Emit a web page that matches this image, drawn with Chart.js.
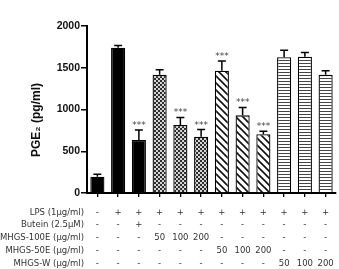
<!DOCTYPE html>
<html>
<head>
<meta charset="utf-8">
<script src="https://cdn.jsdelivr.net/npm/chart.js@4.4.1/dist/chart.umd.min.js"></script>
<style>
  html, body { margin: 0; padding: 0; background: #fff; }
  #wrap { width: 339px; height: 269px; }
</style>
</head>
<body>
<div id="wrap"><canvas id="myChart" width="339" height="269"></canvas></div>
<script>
// values
var groups = ['ctrl', 'LPS', 'Butein', '100E-50', '100E-100', '100E-200', '50E-50', '50E-100', '50E-200', 'W-50', 'W-100', 'W-200'];
var pge2 = [195, 1740, 635, 1415, 815, 675, 1465, 930, 705, 1625, 1632, 1415];
var pge2Err = [30, 25, 120, 60, 90, 85, 115, 95, 35, 85, 50, 50];
var stars = ['', '', '***', '', '***', '***', '***', '***', '***', '', '', ''];
var yTicks = [0, 500, 1000, 1500, 2000];

// treatment table below the x axis
var rowNames = ['LPS (1\u03bcg/ml)', 'Butein (2.5\u03bcM)', 'MHGS-100E (\u03bcg/ml)', 'MHGS-50E (\u03bcg/ml)', 'MHGS-W (\u03bcg/ml)'];
var lps = ['-', '+', '+', '+', '+', '+', '+', '+', '+', '+', '+', '+'];
var butein = ['-', '-', '+', '-', '-', '-', '-', '-', '-', '-', '-', '-'];
var mhgs100e = ['-', '-', '-', '50', '100', '200', '-', '-', '-', '-', '-', '-'];
var mhgs50e = ['-', '-', '-', '-', '-', '-', '50', '100', '200', '-', '-', '-'];
var mhgsW = ['-', '-', '-', '-', '-', '-', '-', '-', '-', '50', '100', '200'];
var table = [lps, butein, mhgs100e, mhgs50e, mhgsW];

function makePattern(kind) {
    var c = document.createElement('canvas');
    var g = c.getContext('2d');
    if (kind == 'dots') {
        c.width = 4; c.height = 4;
        g.fillStyle = '#d4d4d4'; g.fillRect(0, 0, 4, 4);
        g.fillStyle = '#2e2e2e'; g.fillRect(0, 0, 2, 2); g.fillRect(2, 2, 2, 2);
    } else if (kind == 'diag') {
        c.width = 7; c.height = 7;
        g.fillStyle = '#fff'; g.fillRect(0, 0, 7, 7);
        g.strokeStyle = '#111'; g.lineWidth = 1.6;
        g.beginPath();
        g.moveTo(-1, -1); g.lineTo(8, 8);
        g.moveTo(-1, 6); g.lineTo(1, 8);
        g.moveTo(6, -1); g.lineTo(8, 1);
        g.stroke();
    } else {
        c.width = 3; c.height = 3;
        g.fillStyle = '#fff'; g.fillRect(0, 0, 3, 3);
        g.fillStyle = '#444'; g.fillRect(0, 0, 3, 1);
    }
    return document.getElementById('myChart').getContext('2d').createPattern(c, 'repeat');
}

var fills = [];
for (var i = 0; i < groups.length; i++) {
    if (i < 3) fills.push('#000');
    else if (i < 6) fills.push(makePattern('dots'));
    else if (i < 9) fills.push(makePattern('diag'));
    else fills.push(makePattern('horiz'));
}

var extras = {
    id: 'extras',
    afterDatasetsDraw: function(chart) {
        var ctx = chart.ctx;
        var y = chart.scales.y;
        var meta = chart.getDatasetMeta(0);
        ctx.save();
        ctx.strokeStyle = '#000';
        ctx.lineWidth = 1.5;
        ctx.fillStyle = '#444';
        ctx.font = '9px "DejaVu Sans"';
        ctx.textAlign = 'center';
        ctx.textBaseline = 'alphabetic';
        for (var i = 0; i < pge2.length; i++) {
            var bx = meta.data[i].x;
            var top = y.getPixelForValue(pge2[i]);
            var et = y.getPixelForValue(pge2[i] + pge2Err[i]);
            ctx.beginPath();
            ctx.moveTo(bx, top); ctx.lineTo(bx, et);
            ctx.moveTo(bx - 4, et); ctx.lineTo(bx + 4, et);
            ctx.stroke();
            if (stars[i]) ctx.fillText(stars[i], bx, et - 2);
        }
        ctx.restore();
    },
    afterDraw: function(chart) {
        var ctx = chart.ctx;
        var x = chart.scales.x;
        var area = chart.chartArea;
        ctx.save();
        ctx.fillStyle = '#333';
        ctx.font = '8.5px "DejaVu Sans"';
        ctx.textBaseline = 'middle';
        for (var r = 0; r < table.length; r++) {
            var ry = area.bottom + 19.5 + r * 12.75;
            ctx.textAlign = 'right';
            ctx.fillText(rowNames[r], 84, ry);
            ctx.textAlign = 'center';
            for (var i = 0; i < table[r].length; i++) {
                ctx.fillText(table[r][i], x.getPixelForValue(i), ry);
            }
        }
        // y axis title
        ctx.translate(37, 120);
        ctx.rotate(-Math.PI / 2);
        ctx.fillStyle = '#111';
        ctx.textAlign = 'center';
        ctx.font = 'bold 12px "Liberation Sans"';
        ctx.fillText('PGE\u2082 (pg/ml)', 0, 0);
        ctx.restore();
    }
};

var dates = {
    type: 'bar',
    data: {
        labels: groups,
        datasets: [{
            data: pge2,
            backgroundColor: fills,
            borderColor: '#000',
            borderWidth: 1.3,
            borderSkipped: 'bottom',
            barPercentage: 0.68,
            categoryPercentage: 1
        }]
    },
    options: {
        responsive: false,
        animation: false,
        layout: { padding: { top: 26, right: 3, left: 0, bottom: 0 } },
        plugins: { legend: { display: false }, tooltip: { enabled: false } },
        scales: {
            x: {
                grid: { display: true, drawOnChartArea: false, offset: false, color: '#000', lineWidth: 1.3, tickLength: 4 },
                border: { display: true, color: '#000', width: 2 },
                ticks: { display: false },
                afterFit: function(s) { s.height = 76; }
            },
            y: {
                min: 0,
                max: 2000,
                afterBuildTicks: function(s) { s.ticks = yTicks.map(function(v) { return { value: v }; }); },
                grid: { display: true, drawOnChartArea: false, color: '#000', lineWidth: 1.5, tickLength: 6 },
                border: { display: true, color: '#000', width: 2 },
                ticks: {
                    color: '#111', padding: 1,
                    font: { family: 'Liberation Sans', weight: 'bold', size: 10.5 },
                    callback: function(v) { return String(v); }
                },
                afterFit: function(s) { s.width = 87; }
            }
        }
    },
    plugins: [extras]
};

const ctx = document.getElementById('myChart').getContext('2d');
const myChart = new Chart(ctx, dates);
</script>
</body>
</html>
